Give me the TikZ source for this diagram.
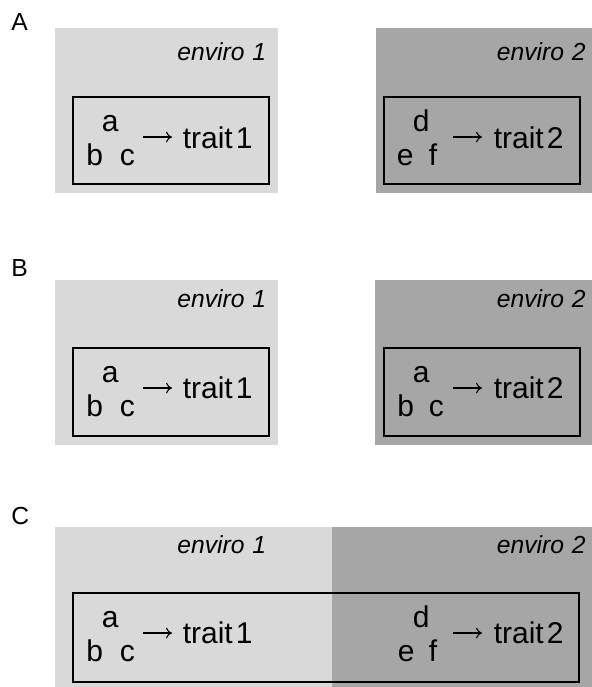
\documentclass[tikz,border=0pt]{standalone}
\usepackage{fontspec}
\setmainfont{Liberation Sans}
\usetikzlibrary{arrows.meta}
\definecolor{lightg}{HTML}{D9D9D9}
\definecolor{darkg}{HTML}{A6A6A6}
\tikzset{
  innerbox/.style={draw=black, line width=2.1pt},
  envlab/.style={font=\itshape\fontsize{18.5}{22}\selectfont, anchor=base east, inner sep=0pt},
  varlab/.style={font=\fontsize{22.5}{26}\selectfont, anchor=base west, inner sep=0pt},
  panlab/.style={font=\fontsize{18.5}{22}\selectfont, anchor=base west, inner sep=0pt},
  arr/.style={line width=0.8pt, -{To[length=4.5pt,width=8pt]}}
}
\newcommand{\envtxt}[1]{enviro\hspace{0.32em}#1}
\newcommand{\trtxt}[1]{trait\hspace{0.1em}#1}
\begin{document}
\begin{tikzpicture}[x=0.75pt,y=-0.75pt]
\useasboundingbox (0,0) rectangle (592,687);
% ---------- Panel A ----------
\fill[lightg] (55,28) rectangle (278,193);
\fill[darkg] (376,28) rectangle (592,193);
\draw[innerbox] (73,97) rectangle (269,184);
\draw[innerbox] (384,97) rectangle (580,184);
\node[panlab] (labA) at (11,30) {A};
\node[envlab] (envA1) at (266.5,60) {\envtxt{1}};
\node[envlab] (envA2) at (586,60) {\envtxt{2}};
\node[varlab] (aA) at (101.5,131) {a};
\node[varlab] (bA) at (86,165) {b};
\node[varlab] (cA) at (119.5,165) {c};
\node[varlab] (tA1) at (182.5,148) {\trtxt{1}};
\coordinate (sA1) at (143,137);
\coordinate (eA1) at (172,137);
\draw[arr] (sA1) -- (eA1);
\node[varlab] (dA) at (412.5,131) {d};
\node[varlab] (eA) at (396.5,165) {e};
\node[varlab] (fA) at (428.5,165) {f};
\node[varlab] (tA2) at (493.5,148) {\trtxt{2}};
\coordinate (sA2) at (453,137);
\coordinate (eA2) at (482,137);
\draw[arr] (sA2) -- (eA2);
% ---------- Panel B ----------
\fill[lightg] (55,280) rectangle (278,445);
\fill[darkg] (375,280) rectangle (592,445);
\draw[innerbox] (73,348) rectangle (269,436);
\draw[innerbox] (384,348) rectangle (580,436);
\node[panlab] (labB) at (11,276) {B};
\node[envlab] (envB1) at (266.5,307) {\envtxt{1}};
\node[envlab] (envB2) at (586,307) {\envtxt{2}};
\node[varlab] (aB1) at (101.5,382) {a};
\node[varlab] (bB1) at (86,416) {b};
\node[varlab] (cB1) at (119.5,416) {c};
\node[varlab] (tB1) at (182.5,398) {\trtxt{1}};
\coordinate (sB1) at (143,388);
\coordinate (eB1) at (172,388);
\draw[arr] (sB1) -- (eB1);
\node[varlab] (aB2) at (412.5,382) {a};
\node[varlab] (bB2) at (397,416) {b};
\node[varlab] (cB2) at (428.5,416) {c};
\node[varlab] (tB2) at (493.5,398) {\trtxt{2}};
\coordinate (sB2) at (453,388);
\coordinate (eB2) at (482,388);
\draw[arr] (sB2) -- (eB2);
% ---------- Panel C ----------
\fill[lightg] (55,527) rectangle (332,687);
\fill[darkg] (332,527) rectangle (592,687);
\draw[innerbox] (73,593) rectangle (579,682);
\node[panlab] (labC) at (11,524) {C};
\node[envlab] (envC1) at (266.5,553) {\envtxt{1}};
\node[envlab] (envC2) at (586,553) {\envtxt{2}};
\node[varlab] (aC) at (101.5,627) {a};
\node[varlab] (bC) at (86,661) {b};
\node[varlab] (cC) at (119.5,661) {c};
\node[varlab] (tC1) at (182.5,643) {\trtxt{1}};
\coordinate (sC1) at (143,633);
\coordinate (eC1) at (172,633);
\draw[arr] (sC1) -- (eC1);
\node[varlab] (dC) at (412.5,627) {d};
\node[varlab] (eC) at (397.5,661) {e};
\node[varlab] (fC) at (428.5,661) {f};
\node[varlab] (tC2) at (493.5,643) {\trtxt{2}};
\coordinate (sC2) at (453,633);
\coordinate (eC2) at (482,633);
\draw[arr] (sC2) -- (eC2);
\end{tikzpicture}
\end{document}
